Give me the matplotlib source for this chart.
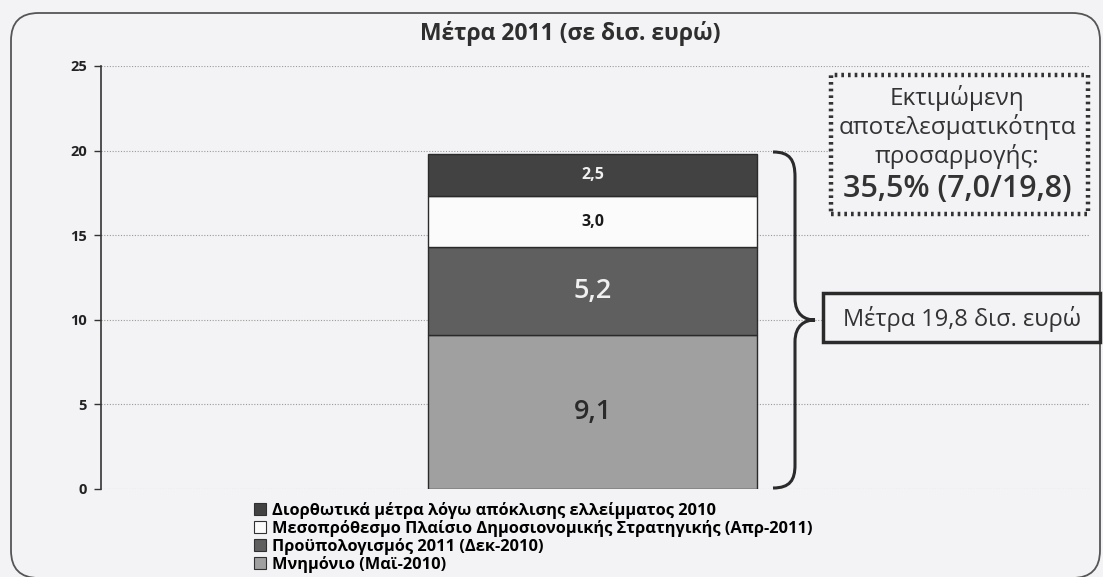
import matplotlib
matplotlib.use("Agg")
import matplotlib.pyplot as plt
from matplotlib.path import Path
from matplotlib.patches import PathPatch, FancyBboxPatch, Rectangle, Patch

plt.rcParams['font.family'] = ['Open Sans', 'Noto Sans', 'DejaVu Sans']

# ---- data ----
title = "Μέτρα 2011 (σε δισ. ευρώ)"
series_names = [
    "Μνημόνιο (Μαϊ-2010)",
    "Προϋπολογισμός 2011 (Δεκ-2010)",
    "Μεσοπρόθεσμο Πλαίσιο Δημοσιονομικής Στρατηγικής (Απρ-2011)",
    "Διορθωτικά μέτρα λόγω απόκλισης ελλείμματος 2010",
]
series_values = [9.1, 5.2, 3.0, 2.5]
value_labels = ["9,1", "5,2", "3,0", "2,5"]
colors = ["#a0a0a0", "#5f5f5f", "#fbfbfb", "#424242"]
label_colors = ["#2a2a2a", "#f0f0f0", "#1a1a1a", "#f0f0f0"]
label_sizes = [19.5, 19.5, 11.5, 11.5]
yticks = [0, 5, 10, 15, 20, 25]
total_text = "Μέτρα 19,8 δισ. ευρώ"
eff_lines = ["Εκτιμώμενη", "αποτελεσματικότητα", "προσαρμογής:"]
eff_value = "35,5% (7,0/19,8)"

W, H = 1103, 577
fig = plt.figure(figsize=(W / 100, H / 100), dpi=100)
bg = "#f3f3f5"
fig.patch.set_facecolor(bg)


def fx(x):
    return x / W


def fy(y):
    return 1 - y / H


# outer rounded frame
frame = FancyBboxPatch((fx(11), fy(578)), fx(1100) - fx(11), fy(13) - fy(578),
                       boxstyle="round,pad=0,rounding_size=0.025",
                       transform=fig.transFigure, facecolor="none",
                       edgecolor="#555555", linewidth=1.3, mutation_aspect=W / H)
fig.patches.append(frame)

ax = fig.add_axes([fx(101), fy(489), fx(1090) - fx(101), fy(66) - fy(489)])
ax.set_facecolor("none")
ax.set_xlim(-0.5, 0.5)
ax.set_ylim(0, 25)

bottom = 0
for v, c, lab, lc, ls in zip(series_values, colors, value_labels, label_colors, label_sizes):
    ax.bar(-0.003, v, width=0.333, bottom=bottom, color=c, edgecolor="#2a2a2a",
           linewidth=1.0, zorder=3)
    ax.text(-0.003, bottom + v / 2, lab, ha="center", va="center", color=lc,
            fontsize=ls, fontweight="bold" if ls < 15 else "semibold", zorder=4)
    bottom += v

ax.set_yticks(yticks)
ax.set_yticklabels([str(t) for t in yticks], fontsize=10.5, fontweight="bold",
                   color="#222222")
ax.set_xticks([])
ax.tick_params(axis="y", length=5, width=1, color="#333333", pad=5)
for s in ["top", "right", "bottom"]:
    ax.spines[s].set_visible(False)
ax.spines["left"].set_color("#333333")
ax.spines["left"].set_linewidth(1.2)
ax.yaxis.grid(True, linestyle=(0, (1, 1.5)), color="#9a9a9a", linewidth=0.8, zorder=0)

fig.text(fx(570), fy(34), title, ha="center", va="center", fontsize=16.5,
         fontweight="bold", color="#2e2e2e")

# curly brace
P = [(773, 152), (790, 152), (795, 160), (795, 177),
     (795, 298), (795, 315), (805, 320), (815, 320),
     (805, 320), (795, 325), (795, 342),
     (795, 465), (795, 480), (790, 488), (773, 488)]
codes = [Path.MOVETO, Path.CURVE4, Path.CURVE4, Path.CURVE4,
         Path.LINETO, Path.CURVE4, Path.CURVE4, Path.CURVE4,
         Path.CURVE4, Path.CURVE4, Path.CURVE4,
         Path.LINETO, Path.CURVE4, Path.CURVE4, Path.CURVE4]
brace = PathPatch(Path([(fx(x), fy(y)) for x, y in P], codes), transform=fig.transFigure,
                  facecolor="none", edgecolor="#2a2a2a", linewidth=2.2)
fig.patches.append(brace)

# total box
fig.patches.append(Rectangle((fx(823), fy(342)), fx(1100) - fx(823), fy(293) - fy(342),
                             transform=fig.transFigure, facecolor=bg,
                             edgecolor="#2a2a2a", linewidth=2.5, zorder=5))
fig.text(fx(962), fy(326), total_text, ha="center", va="baseline", fontsize=17,
         color="#333333", zorder=6)

# efficiency dotted box
fig.patches.append(Rectangle((fx(831), fy(214)), fx(1088) - fx(831), fy(75) - fy(214),
                             transform=fig.transFigure, facecolor=bg,
                             edgecolor="#333333", linewidth=3.2,
                             linestyle=(0, (0.6, 0.9)), zorder=5))
for t, yb in zip(eff_lines, [105, 134, 163]):
    fig.text(fx(957), fy(yb), t, ha="center", va="baseline",
             fontsize=17.5, color="#333333", zorder=6)
fig.text(fx(957), fy(197), eff_value, ha="center", va="baseline", fontsize=22,
         fontweight="semibold", color="#333333", zorder=6)

# legend (top to bottom: reverse of stacking order)
handles = [Patch(facecolor=colors[i], edgecolor="#303030", linewidth=0.8)
           for i in reversed(range(len(series_names)))]
labels = [series_names[i] for i in reversed(range(len(series_names)))]
fig.legend(handles, labels, loc="upper left", bbox_to_anchor=(fx(254), fy(502)),
           frameon=False, prop={"weight": "bold", "size": 11.8},
           handlelength=0.75, handleheight=0.75, handletextpad=0.35,
           labelspacing=0.06, borderpad=0, borderaxespad=0)

fig.savefig("out.png", dpi=100, facecolor=bg)
